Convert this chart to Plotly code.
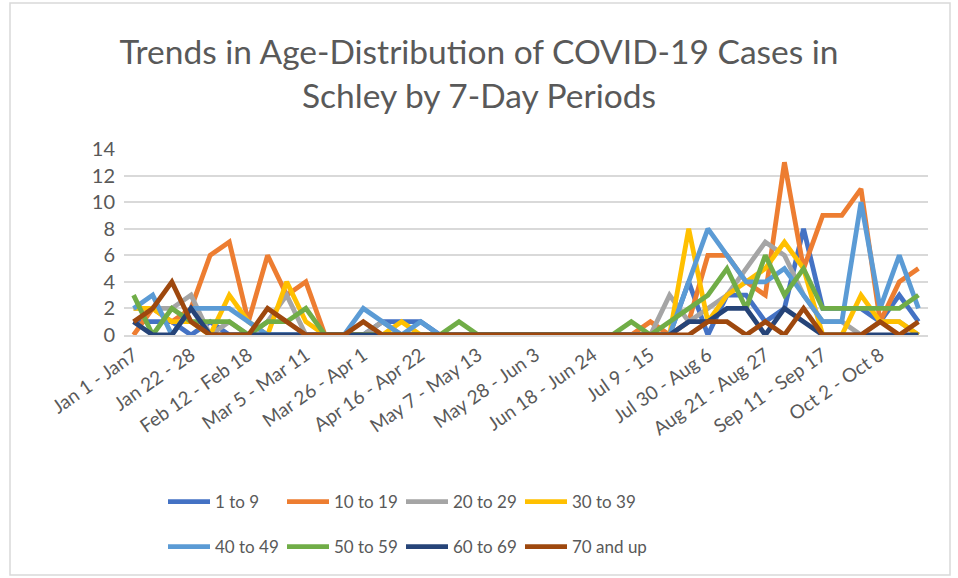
import plotly.graph_objects as go

periods = [
    "Jan 1 - Jan7", "Jan 8 - 14", "Jan 15 - 21", "Jan 22 - 28", "Jan 29 - Feb 4",
    "Feb 5 - Feb 11", "Feb 12 - Feb 18", "Feb 19 - Feb 25", "Feb 26 - Mar 4",
    "Mar 5 - Mar 11", "Mar 12 - Mar 18", "Mar 19 - Mar 25", "Mar 26 - Apr 1",
    "Apr 2 - Apr 8", "Apr 9 - Apr 15", "Apr 16 - Apr 22", "Apr 23 - Apr 29",
    "Apr 30 - May 6", "May 7 - May 13", "May 14 - May 20", "May 21 - May 27",
    "May 28 - Jun 3", "Jun 4 - Jun 10", "Jun 11 - Jun 17", "Jun 18 - Jun 24",
    "Jun 25 - Jul 1", "Jul 2 - 8", "Jul 9 - 15", "Jul 16 - 22", "Jul 23 - 29",
    "Jul 30 - Aug 6", "Aug 7 - Aug 13", "Aug 14 - Aug 20", "Aug 21 - Aug 27",
    "Aug 28 - Sep 3", "Sep 4 - Sep 10", "Sep 11 - Sep 17", "Sep 18 - Sep 24",
    "Sep 25 - Oct 1", "Oct 2 - Oct 8", "Oct 9 - Oct 15", "Oct 16 - Oct 22",
]

age_1_9 = [1, 1, 1, 0, 1, 0, 0, 0, 0, 0, 0, 0, 0, 1, 1, 1, 0, 0, 0, 0, 0,
           0, 0, 0, 0, 0, 0, 0, 0, 4, 0, 3, 3, 1, 2, 8, 2, 2, 2, 1, 3, 1]
age_10_19 = [0, 2, 1, 2, 6, 7, 1, 6, 3, 4, 0, 0, 0, 0, 0, 0, 0, 0, 0, 0, 0,
             0, 0, 0, 0, 0, 0, 1, 0, 1, 6, 6, 4, 3, 13, 5, 9, 9, 11, 1, 4, 5]
age_20_29 = [2, 2, 2, 3, 0, 1, 0, 1, 3, 0, 0, 0, 0, 1, 0, 0, 0, 0, 0, 0, 0,
             0, 0, 0, 0, 0, 0, 0, 3, 1, 2, 3, 5, 7, 6, 3, 1, 1, 0, 1, 1, 0]
age_30_39 = [2, 2, 1, 1, 0, 3, 1, 0, 4, 1, 0, 0, 0, 0, 1, 0, 0, 0, 0, 0, 0,
             0, 0, 0, 0, 0, 0, 0, 0, 8, 1, 3, 4, 5, 7, 5, 0, 0, 3, 1, 1, 0]
age_40_49 = [2, 3, 0, 2, 2, 2, 1, 0, 0, 0, 0, 0, 2, 1, 0, 1, 0, 0, 0, 0, 0,
             0, 0, 0, 0, 0, 0, 0, 0, 4, 8, 6, 4, 4, 5, 3, 1, 1, 10, 2, 6, 2]
age_50_59 = [3, 0, 2, 1, 1, 1, 0, 1, 1, 2, 0, 0, 0, 0, 0, 0, 0, 1, 0, 0, 0,
             0, 0, 0, 0, 0, 1, 0, 1, 2, 3, 5, 2, 6, 3, 5, 2, 2, 2, 2, 2, 3]
age_60_69 = [1, 0, 0, 2, 0, 0, 0, 0, 0, 0, 0, 0, 0, 0, 0, 0, 0, 0, 0, 0, 0,
             0, 0, 0, 0, 0, 0, 0, 0, 1, 1, 2, 2, 0, 2, 1, 0, 0, 0, 0, 0, 0]
age_70_up = [1, 2, 4, 1, 0, 0, 0, 2, 1, 0, 0, 0, 1, 0, 0, 0, 0, 0, 0, 0, 0,
             0, 0, 0, 0, 0, 0, 0, 0, 0, 1, 1, 0, 1, 0, 2, 0, 0, 0, 1, 0, 1]

series_names = ["1 to 9", "10 to 19", "20 to 29", "30 to 39",
                "40 to 49", "50 to 59", "60 to 69", "70 and up"]
series_values = [age_1_9, age_10_19, age_20_29, age_30_39,
                 age_40_49, age_50_59, age_60_69, age_70_up]
colors = ["#4472C4", "#ED7D31", "#A5A5A5", "#FFC000",
          "#5B9BD5", "#70AD47", "#264478", "#9E480E"]

tick_labels = periods[::3]

FONT = "Lato, 'Open Sans', sans-serif"
GREY = "#595959"

fig = go.Figure()
for k, (name, vals, col) in enumerate(zip(series_names, series_values, colors)):
    fig.add_trace(go.Scatter(
        x=periods, y=vals, name=name, mode="lines",
        line=dict(color=col, width=4.8, shape="linear"),
        legend="legend" if k < 4 else "legend2",
        legendwidth=110 if k in (3, 7) else None,
        hoverinfo="x+y+name",
    ))

legend_common = dict(
    orientation="h", xref="container", yref="container",
    x=163 / 958, xanchor="left", yanchor="middle",
    font=dict(family=FONT, size=17, color=GREY),
    itemwidth=42, entrywidth=62, entrywidthmode="pixels",
    bgcolor="rgba(0,0,0,0)", traceorder="normal",
)

fig.update_layout(
    width=958, height=578,
    paper_bgcolor="white", plot_bgcolor="white",
    margin=dict(l=124, r=30, t=149, b=243, autoexpand=False),
    font=dict(family=FONT, color=GREY),
    title=dict(
        text="Trends in Age-Distribution of COVID-19 Cases in<br>Schley by 7-Day Periods",
        x=0.5, xanchor="center", xref="container",
        y=1 - 64 / 578, yanchor="middle", yref="container",
        font=dict(family=FONT, size=33.5, color=GREY),
        automargin=False,
    ),
    xaxis=dict(
        type="category", categoryorder="array", categoryarray=periods,
        tickmode="array", tickvals=tick_labels, ticktext=tick_labels,
        tickangle=-35, tickfont=dict(family=FONT, size=19, color=GREY),
        showgrid=False, showline=True, linecolor="#D9D9D9", linewidth=1.5,
        ticks="", zeroline=False, range=[-0.5, len(periods) - 0.5],
        automargin=False,
    ),
    yaxis=dict(
        range=[0, 14], dtick=2, tickmode="linear", tick0=0,
        showgrid=True, gridcolor="#D9D9D9", gridwidth=1.5,
        zeroline=False, showline=False,
        tickfont=dict(family=FONT, size=20, color=GREY), ticks="",
        ticklabelstandoff=8, automargin=False,
    ),
    legend=dict(legend_common, y=1 - 502 / 578),
    legend2=dict(legend_common, y=1 - 547 / 578),
    shapes=[dict(
        type="rect", xref="paper", yref="paper",
        x0=(10 - 124) / 804, x1=(950 - 124) / 804,
        y0=-(575 - 335) / 186, y1=1 + (149 - 3) / 186,
        line=dict(color="#D9D9D9", width=1.5), fillcolor="rgba(0,0,0,0)",
        layer="below",
    )],
)

fig.write_html(
    "out.html",
    config={"displayModeBar": False},
    post_script="document.body.style.margin='0';document.body.style.padding='0';",
)
